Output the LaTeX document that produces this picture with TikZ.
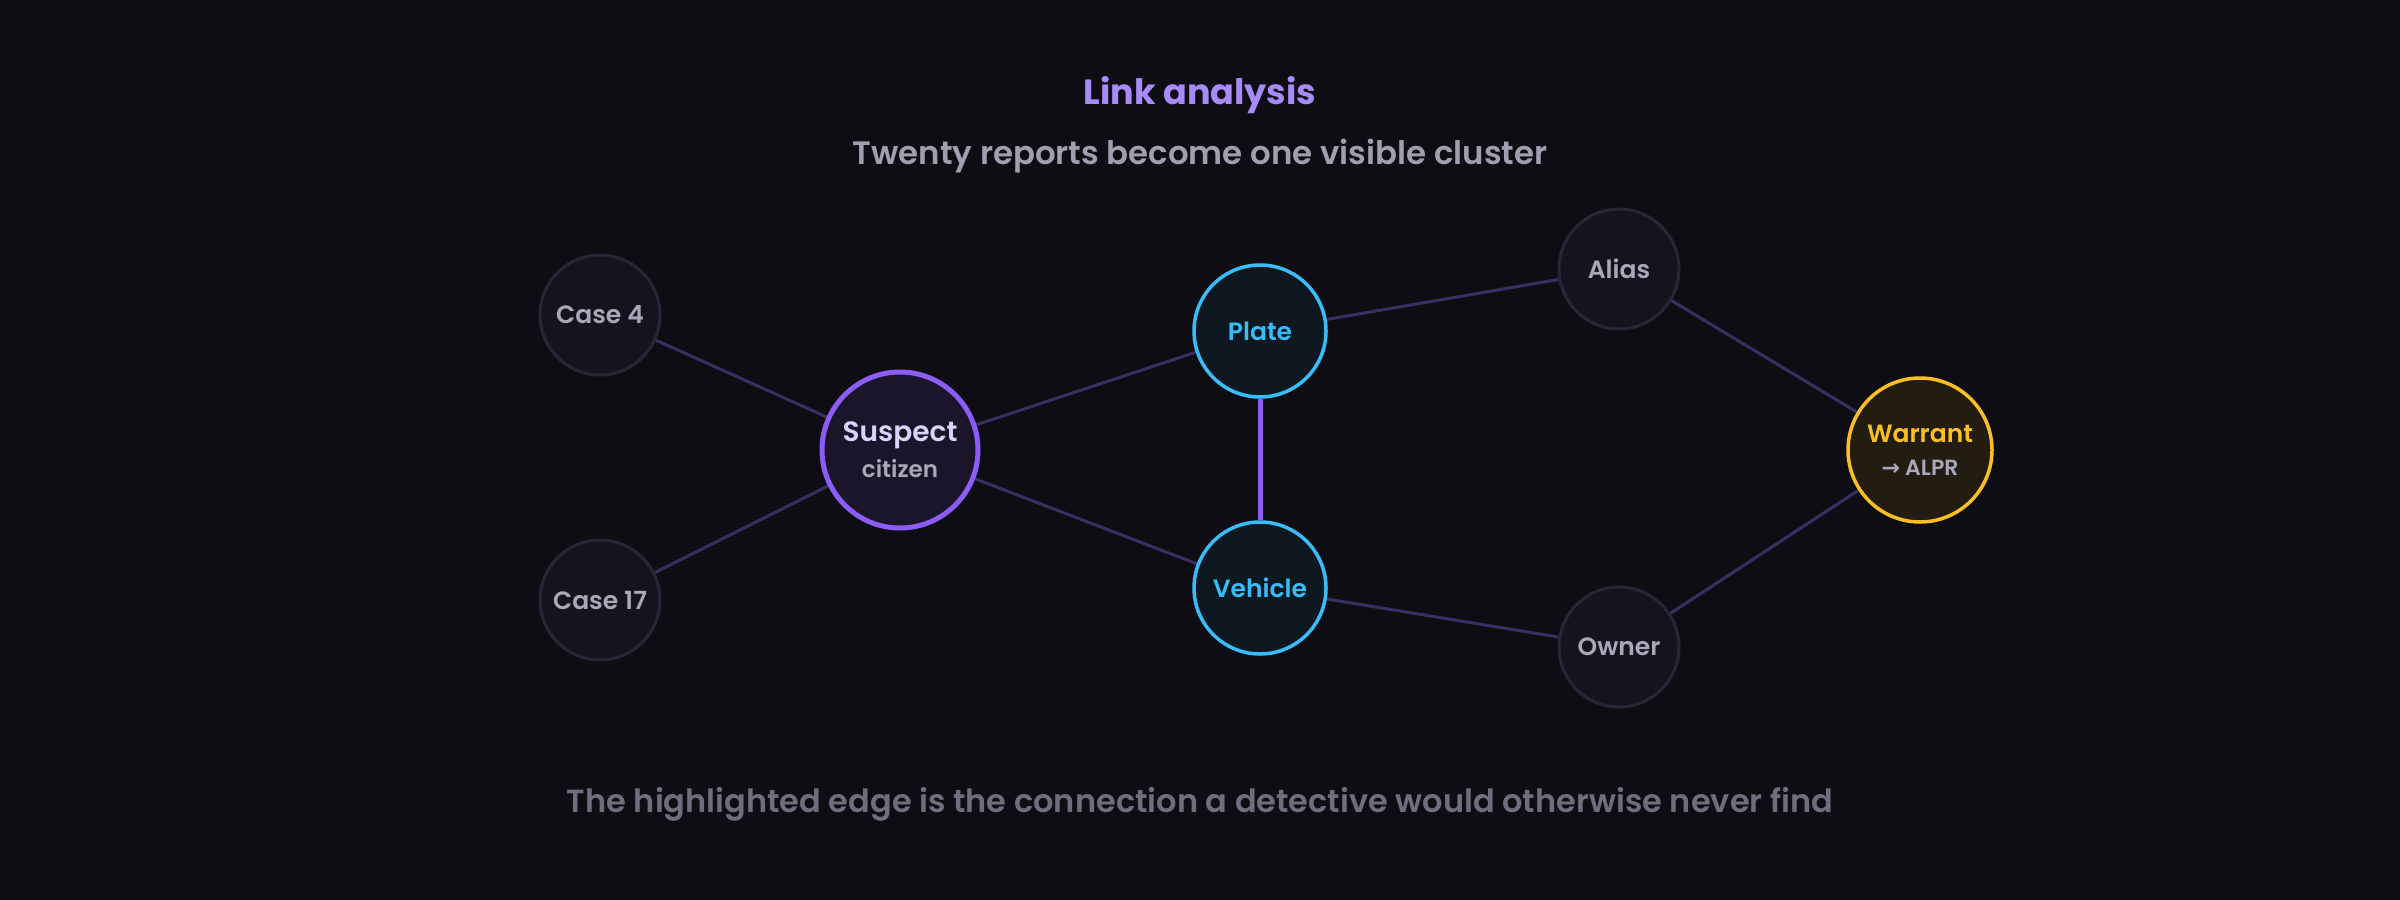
\documentclass[tikz,border=0pt]{standalone}
\usepackage{fontspec}
\IfFontExistsTF{Poppins SemiBold}
  {\setmainfont{Poppins}[BoldFont={Poppins SemiBold}]}
  {\setmainfont{Poppins}}
\newfontfamily\titlefont{Poppins}
\newfontfamily\symfont{DejaVu Sans}
\usepackage{tikz}
\usetikzlibrary{backgrounds}

\definecolor{bgdark}{HTML}{0E0D14}
\definecolor{plainfill}{HTML}{15141E}
\definecolor{plainline}{HTML}{272636}
\definecolor{plaintext}{HTML}{A9A8B8}
\definecolor{violet}{HTML}{8B5CF6}
\definecolor{lavender}{HTML}{A78BFA}
\definecolor{suspectfill}{HTML}{1A1529}
\definecolor{suspecttext}{HTML}{DCD3FC}
\definecolor{sky}{HTML}{38BDF8}
\definecolor{skyfill}{HTML}{0D1820}
\definecolor{amber}{HTML}{FBBF24}
\definecolor{amberfill}{HTML}{221C11}
\definecolor{linkline}{HTML}{3A2F62}
\definecolor{subgrey}{HTML}{A09FAF}
\definecolor{notegrey}{HTML}{6F6E7E}

\tikzset{
  entity/.style={circle, draw=plainline, fill=plainfill, line width=1.5pt, inner sep=0pt,
    minimum size=60pt, text=plaintext, align=center,
    font=\bfseries\fontsize{12.5}{15}\selectfont},
  link/.style={draw=linkline, line width=1.5pt},
}

\begin{document}
\begin{tikzpicture}[x=0.5pt, y=-0.5pt]
  \useasboundingbox (0,0) rectangle (2400,900);

  \node[font=\titlefont\bfseries\fontsize{17.5}{21}\selectfont, text=lavender] (title) at (1200,95) {Link analysis};
  \node[font=\bfseries\fontsize{16.2}{19}\selectfont, text=subgrey] (subtitle) at (1200,156) {Twenty reports become one visible cluster};

  \node[entity] (case4)  at (600,315) {Case 4};
  \node[entity] (case17) at (600,600) {Case 17};
  \node[entity, minimum size=78pt, draw=violet, fill=suspectfill, line width=2.5pt, text=suspecttext,
        font=\bfseries\fontsize{14}{17}\selectfont] (suspect) at (900,450)
        {Suspect\\[1pt]{\color{plaintext}\fontsize{11.5}{14}\selectfont citizen}};
  \node[entity, minimum size=66pt, draw=sky, fill=skyfill, line width=1.75pt, text=sky] (plate)   at (1260,331) {Plate};
  \node[entity, minimum size=66pt, draw=sky, fill=skyfill, line width=1.75pt, text=sky] (vehicle) at (1260,588) {Vehicle};
  \node[entity] (alias) at (1619,269) {Alias};
  \node[entity] (owner) at (1619,647) {Owner};
  \node[entity, minimum size=72pt, draw=amber, fill=amberfill, line width=1.75pt, text=amber] (warrant) at (1920,450)
        {Warrant\\[1.5pt]{\color{plaintext}\fontsize{11}{14}\selectfont{\symfont →} ALPR}};

  \begin{scope}[on background layer]
    \fill[bgdark] (0,0) rectangle (2400,900);
    \draw[link] (case4) -- (suspect);
    \draw[link] (case17) -- (suspect);
    \draw[link] (suspect) -- (plate);
    \draw[link] (suspect) -- (vehicle);
    \draw[link] (plate) -- (alias);
    \draw[link] (vehicle) -- (owner);
    \draw[link] (alias) -- (warrant);
    \draw[link] (owner) -- (warrant);
    \draw[violet, line width=2.5pt] (plate) -- (vehicle);
  \end{scope}

  \node[font=\bfseries\fontsize{16}{19}\selectfont, text=notegrey] (note) at (1200,804)
       {The highlighted edge is the connection a detective would otherwise never find};
\end{tikzpicture}
\end{document}
